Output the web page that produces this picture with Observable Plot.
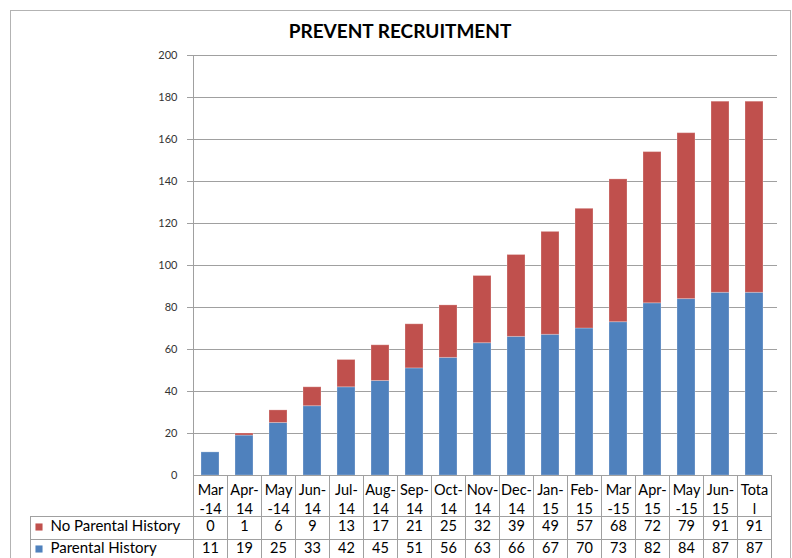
<!DOCTYPE html>
<html><head><meta charset="utf-8">
<script src="https://cdn.jsdelivr.net/npm/d3@7"></script>
<script src="https://cdn.jsdelivr.net/npm/@observablehq/plot@0.6"></script>
<style>
body{margin:0;background:#fff;}
#wrap{position:relative;width:792px;height:558px;overflow:hidden;font-family:Lato,sans-serif;background:#fff;}
#border{position:absolute;left:10px;top:10px;width:779px;height:600px;border:1px solid #b3b3b3;}
#title{position:absolute;left:10px;top:19px;width:780px;text-align:center;font-weight:bold;font-size:19px;color:#000;font-family:Lato,sans-serif;}
#chart{position:absolute;left:0;top:0;}
</style></head><body>
<div id="wrap"><div id="border"></div><div id="chart"></div><div id="title">PREVENT RECRUITMENT</div></div>
<script>
const categories = ["Mar-14","Apr-14","May-14","Jun-14","Jul-14","Aug-14","Sep-14","Oct-14","Nov-14","Dec-14","Jan-15","Feb-15","Mar-15","Apr-15","May-15","Jun-15","Total"];
const headerLabels = ["Mar\n-14","Apr-\n14","May\n-14","Jun-\n14","Jul-\n14","Aug-\n14","Sep-\n14","Oct-\n14","Nov-\n14","Dec-\n14","Jan-\n15","Feb-\n15","Mar\n-15","Apr-\n15","May\n-15","Jun-\n15","Tota\nl"];
const noParental = [0,1,6,9,13,17,21,25,32,39,49,57,68,72,79,91,91];
const parental = [11,19,25,33,42,45,51,56,63,66,67,70,73,82,84,87,87];
const seriesNames = ["Parental History","No Parental History"];
const seriesColors = ["#4F81BD","#C0504D"];
const yTicks = [0,20,40,60,80,100,120,140,160,180,200];

const data = [];
categories.forEach((c,i)=>{
  data.push({cat:c, series:seriesNames[0], value:parental[i]});
  data.push({cat:c, series:seriesNames[1], value:noParental[i]});
});

const W=792,H=558,mL=187,mR=15,mT=55,mB=83;
const gridC="#a0a0a0";
const fs=14.5;
const chart = Plot.plot({
  width:W, height:H, marginLeft:mL, marginRight:mR, marginTop:mT, marginBottom:mB,
  style:{fontFamily:"Lato, sans-serif", fontSize:"11px", color:"#333", overflow:"visible", background:"transparent"},
  x:{domain:categories, paddingInner:0.48, paddingOuter:0.24, axis:null},
  y:{domain:[0,200], ticks:yTicks, tickSize:0, tickPadding:10, label:null},
  color:{domain:seriesNames, range:seriesColors},
  marks:[
    Plot.ruleY(yTicks.filter(d=>d>0), {stroke:gridC, strokeWidth:1}),
    Plot.barY(data, {x:"cat", y:"value", fill:"series", order:seriesNames, stroke:"#fff", strokeOpacity:0.25, strokeWidth:1}),
    Plot.text(categories, {x:categories, text:headerLabels, frameAnchor:"bottom", lineAnchor:"top", dy:6, fontSize:fs, lineHeight:1.3, fill:"#000"}),
    Plot.text(categories, {x:categories, text:noParental, frameAnchor:"bottom", dy:55, fontSize:fs, fill:"#000"}),
    Plot.text(categories, {x:categories, text:parental, frameAnchor:"bottom", dy:77, fontSize:fs, fill:"#000"}),
    Plot.text([seriesNames[1]], {text:d=>d, frameAnchor:"bottom-left", dx:-137, dy:55, textAnchor:"start", fontSize:15, fill:"#000"}),
    Plot.text([seriesNames[0]], {text:d=>d, frameAnchor:"bottom-left", dx:-137, dy:77, textAnchor:"start", fontSize:15, fill:"#000"}),
    Plot.dot([seriesNames[1]], {frameAnchor:"bottom-left", dx:-148.5, dy:51.5, symbol:"square", r:4, fill:seriesColors[1]}),
    Plot.dot([seriesNames[0]], {frameAnchor:"bottom-left", dx:-148.5, dy:73.5, symbol:"square", r:4, fill:seriesColors[0]})
  ]
});
document.getElementById("chart").appendChild(chart);

// table grid lines from the x band scale
const xs = chart.scale("x"), ys = chart.scale("y");
const step = xs.step ?? ((W-mL-mR)/categories.length);
const bw = xs.bandwidth;
const bounds = categories.map(c => xs.apply(c) - (step - bw)/2);
bounds.push(bounds[bounds.length-1] + step);
const y0 = ys.apply(0), yTop = ys.apply(200);
const r1 = y0 + 41.5, r2 = y0 + 64, yEnd = H + 5;
const g = d3.select(chart).append("g").attr("stroke", gridC).attr("stroke-width",1).attr("fill","none").attr("shape-rendering","crispEdges");
const line = (x1,y1,x2,y2)=>g.append("line").attr("x1",x1).attr("y1",y1).attr("x2",x2).attr("y2",y2);
line(bounds[0], yTop, bounds[0], yEnd);
bounds.slice(1).forEach(b=>line(b, y0, b, yEnd));
line(bounds[0], y0, bounds[bounds.length-1], y0);
line(30, r1, bounds[bounds.length-1], r1);
line(30, r2, bounds[bounds.length-1], r2);
line(30, r1, 30, yEnd);
</script>
</body></html>
